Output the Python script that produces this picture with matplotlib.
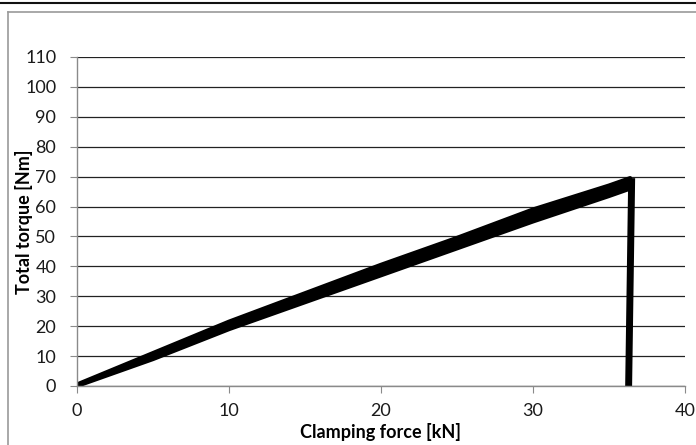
import matplotlib.pyplot as plt
from matplotlib.lines import Line2D

plt.rcParams['font.family'] = ['Lato', 'DejaVu Sans']

# loading branch (band of several runs)
force = [0, 5, 10, 15, 20, 25, 30, 35, 36.4]
torque_upper = [0.5, 11, 21.5, 31, 40.5, 49.5, 59, 67, 69.5]
torque_lower = [0, 9, 19, 28, 37, 46, 55, 63.5, 66]

# unloading: sharp drop to zero
drop_force = [36.5, 36.3]
drop_torque = [69.5, 0]

fig = plt.figure(figsize=(6.96, 4.45), dpi=100)
ax = fig.add_axes([0.1106, 0.1326, 0.8734, 0.7394])

ax.fill_between(force, torque_lower, torque_upper, color='black', lw=0)
ax.plot(force, torque_upper, color='black', lw=3, solid_capstyle='round')
ax.plot(force, torque_lower, color='black', lw=3, solid_capstyle='round')
ax.plot(drop_force, drop_torque, color='black', lw=5, solid_capstyle='butt')

ax.set_xlim(0, 40)
ax.set_ylim(0, 110)
ax.set_xticks(range(0, 41, 10))
ax.set_yticks(range(0, 111, 10))
ax.yaxis.grid(True, color='#222222', lw=0.9)
ax.set_axisbelow(True)

for s in ['top', 'right']:
    ax.spines[s].set_visible(False)
for s in ['left', 'bottom']:
    ax.spines[s].set_color('#8a8a8a')
    ax.spines[s].set_linewidth(1.0)
ax.tick_params(axis='both', direction='out', length=5, color='#8a8a8a',
               labelsize=13, labelcolor='#1a1a1a')
ax.tick_params(axis='y', pad=10)
ax.tick_params(axis='x', pad=7)

ax.set_xlabel('Clamping force [kN]', fontsize=13, fontweight='bold')
ax.set_ylabel('Total torque [Nm]', fontsize=13, fontweight='bold')
ax.xaxis.set_label_coords(0.5, -0.112)
ax.yaxis.set_label_coords(-0.072, 0.5)

# chart frame like the screenshot
fig.add_artist(Line2D([0, 1], [1 - 2.5 / 445, 1 - 2.5 / 445], color='#111111', lw=1.5))
fig.add_artist(Line2D([8 / 696, 1], [1 - 12 / 445, 1 - 12 / 445], color='#9a9a9a', lw=1.2))
fig.add_artist(Line2D([8 / 696, 8 / 696], [0, 1 - 12 / 445], color='#9a9a9a', lw=1.2))

fig.savefig('out.png', dpi=100)
